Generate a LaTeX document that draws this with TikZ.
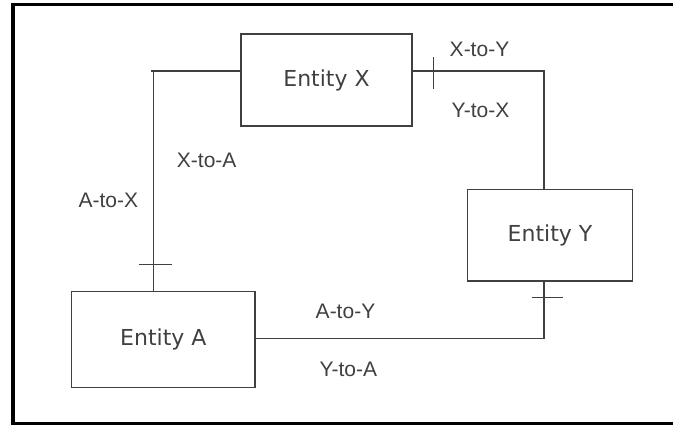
\documentclass[tikz,border=0pt]{standalone}
\usepackage{fontspec}
\setmainfont{DejaVu Sans}
\newfontfamily\labelfont{Liberation Sans}
\begin{document}
\begin{tikzpicture}[x=1pt,y=1pt,
  entity/.style={draw=black!75, line width=1.3pt, inner sep=0pt, font=\fontsize{22}{26}\selectfont, text=black!75},
  conn/.style={draw=black!75, line width=1.1pt},
  lbl/.style={inner sep=0pt, font=\labelfont\fontsize{21}{24}\selectfont, text=black!75}]
\useasboundingbox (0,0) rectangle (673,425);
\begin{scope}
\clip (0,0) rectangle (673,425);
\draw[line width=3.5pt, black] (13.2,1.7) rectangle (700,420.3);
\end{scope}
% entities
\node[entity, minimum width=171pt, minimum height=92pt] (X) at (326.5,345) {Entity X};
\node[entity, minimum width=183.3pt, minimum height=95.6pt] (A) at (163.3,85.5) {Entity A};
\node[entity, minimum width=164.6pt, minimum height=91.7pt] (Y) at (550,189.8) {Entity Y};
% corner coordinates
\coordinate (xa) at (153.7,354);
\coordinate (xy) at (544,354);
\coordinate (ay) at (544,86.7);
% connectors
\draw[conn] (X.west |- xa) -- ([xshift=-3pt]xa);
\draw[conn] (xa) -- (xa |- A.north);
\draw[conn] (X.east |- xy) -- (xy) -- (xy |- Y.north);
\draw[conn] (A.east |- ay) -- (ay) -- (ay |- Y.south);
% ticks
\coordinate (t1) at (153.7,160.3);
\draw[conn] ([xshift=-14.4pt]t1) -- ([xshift=18.6pt]t1);
\coordinate (t2) at (433.7,351.7);
\draw[conn] ([yshift=16pt]t2) -- ([yshift=-16pt]t2);
\coordinate (t3) at (544,127.3);
\draw[conn] ([xshift=-12.3pt]t3) -- ([xshift=19.3pt]t3);
% labels
\node[lbl] (lxy) at (479.5,376) {X-to-Y};
\node[lbl] (lyx) at (480.5,315) {Y-to-X};
\node[lbl] (lxa) at (206.7,265) {X-to-A};
\node[lbl] (lax) at (108.3,225) {A-to-X};
\node[lbl] (lay) at (345.5,113.3) {A-to-Y};
\node[lbl] (lya) at (348.3,55.7) {Y-to-A};
\end{tikzpicture}
\end{document}
